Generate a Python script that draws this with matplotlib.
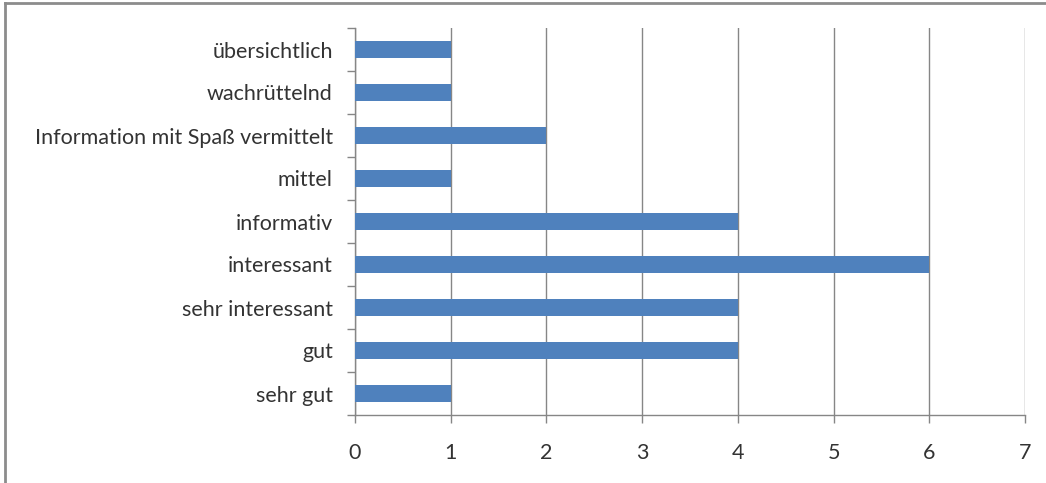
import numpy as np
import matplotlib
matplotlib.use("Agg")
import matplotlib.pyplot as plt
from matplotlib.lines import Line2D

# survey answers, bottom to top as drawn
categories = [
    "sehr gut",
    "gut",
    "sehr interessant",
    "interessant",
    "informativ",
    "mittel",
    "Information mit Spaß vermittelt",
    "wachrüttelnd",
    "übersichtlich",
]
counts = [1, 4, 4, 6, 4, 1, 2, 1, 1]
x_ticks = [0, 1, 2, 3, 4, 5, 6, 7]

BAR_COLOR = "#4F81BD"
GRID_COLOR = "#868686"
TEXT_COLOR = "#333333"

plt.rcParams["font.family"] = ["Lato", "DejaVu Sans"]

fig = plt.figure(figsize=(10.46, 4.83), dpi=100)
ax = fig.add_axes([355 / 1046, 1 - 415 / 483, 670 / 1046, 387 / 483])

y = np.arange(len(categories))
ax.barh(y, counts, height=0.4, color=BAR_COLOR, zorder=3)

ax.set_xlim(0, 7)
ax.set_ylim(-0.5, len(categories) - 0.5)
ax.set_xticks(x_ticks)
ax.set_xticklabels([str(t) for t in x_ticks], fontsize=15.5, color=TEXT_COLOR)
ax.set_yticks(y)
ax.set_yticklabels(categories, fontsize=15.5, color=TEXT_COLOR)
ax.set_yticks(np.arange(len(categories) + 1) - 0.5, minor=True)

ax.tick_params(axis="y", which="major", length=0, pad=16)
ax.tick_params(axis="y", which="minor", length=6, color=GRID_COLOR, width=1)
ax.tick_params(axis="x", length=6, color=GRID_COLOR, width=1, pad=14)

ax.grid(axis="x", color=GRID_COLOR, linewidth=1, zorder=0)
for side in ["top", "right"]:
    ax.spines[side].set_visible(False)
for side in ["left", "bottom"]:
    ax.spines[side].set_color(GRID_COLOR)
    ax.spines[side].set_linewidth(1)

# chart frame (left and top edges visible in the crop)
fig.add_artist(Line2D([5 / 1046, 5 / 1046], [0, 1 - 3 / 483],
                      transform=fig.transFigure, color="#8c8c8c", linewidth=2))
fig.add_artist(Line2D([5 / 1046, 1], [1 - 3 / 483, 1 - 3 / 483],
                      transform=fig.transFigure, color="#8c8c8c", linewidth=2))

fig.savefig("out.png", dpi=100, facecolor="white")
